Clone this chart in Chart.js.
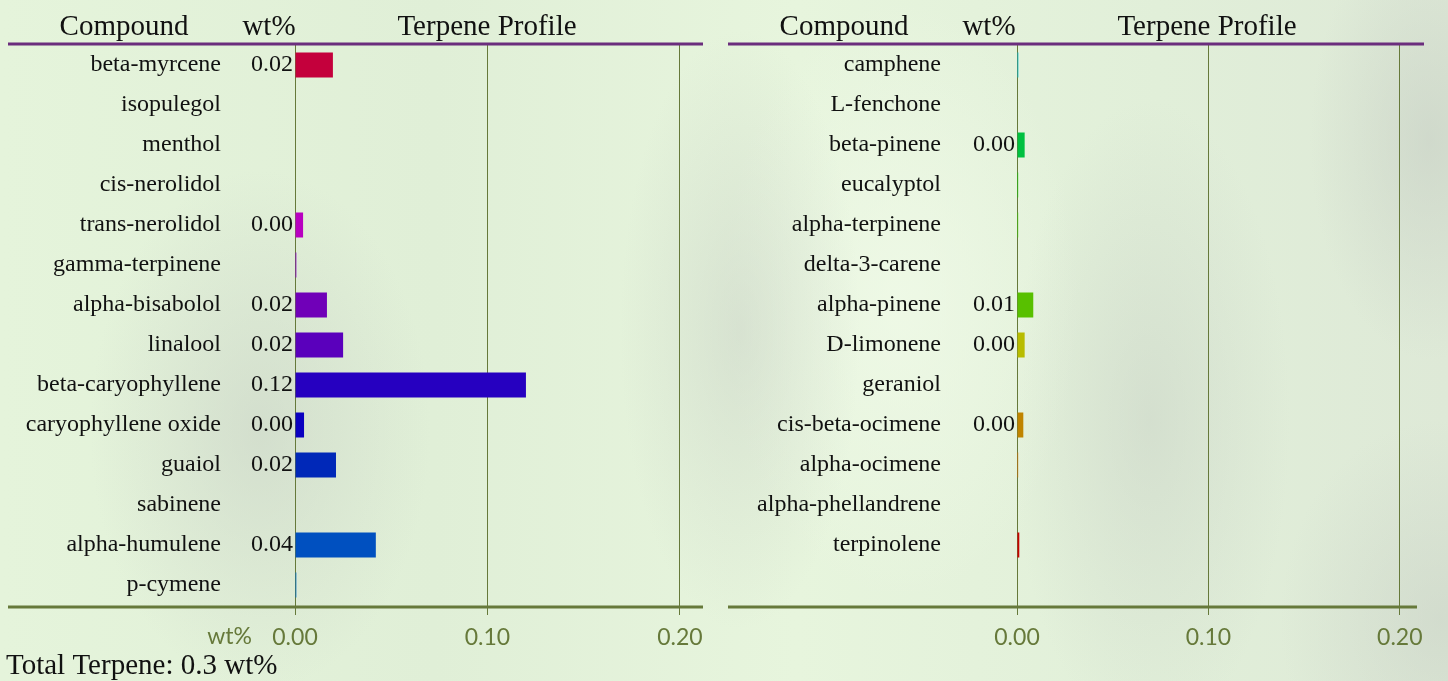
<!DOCTYPE html>
<html>
<head>
<meta charset="utf-8">
<script src="https://cdn.jsdelivr.net/npm/chart.js@4"></script>
<style>
  body {
    margin: 0;
    width: 1448px;
    height: 681px;
    overflow: hidden;
    position: relative;
    background:
      radial-gradient(ellipse 170px 260px at 260px 430px, rgba(196,204,194,0.5), rgba(196,204,194,0)),
      radial-gradient(ellipse 120px 300px at 740px 330px, rgba(196,204,194,0.45), rgba(196,204,194,0)),
      radial-gradient(ellipse 140px 320px at 1150px 420px, rgba(196,204,194,0.45), rgba(196,204,194,0)),
      radial-gradient(ellipse 120px 220px at 1430px 140px, rgba(196,204,194,0.55), rgba(196,204,194,0)),
      radial-gradient(ellipse 160px 200px at 1440px 620px, rgba(196,204,194,0.45), rgba(196,204,194,0)),
      radial-gradient(ellipse 180px 300px at 900px 300px, rgba(240,250,232,0.8), rgba(240,250,232,0)),
      linear-gradient(90deg, #e5f4db 0%, #e0efd7 30%, #e7f5dd 55%, #e1efd9 80%, #dee9d7 100%);
  }
  canvas { position: absolute; top: 0; }
  #left { left: 0; }
  #right { left: 720px; }
</style>
</head>
<body>
<canvas id="left" width="720" height="681"></canvas>
<canvas id="right" width="728" height="681"></canvas>
<script>
// Linke Tabelle
const leftCompounds = ['beta-myrcene', 'isopulegol', 'menthol', 'cis-nerolidol', 'trans-nerolidol',
  'gamma-terpinene', 'alpha-bisabolol', 'linalool', 'beta-caryophyllene', 'caryophyllene oxide',
  'guaiol', 'sabinene', 'alpha-humulene', 'p-cymene'];
const leftValues = [0.0197, 0, 0, 0, 0.0042, 0.0007, 0.0166, 0.025, 0.12, 0.0047, 0.0213, 0, 0.042, 0.0007];
const leftText = ['0.02', '', '', '', '0.00', '', '0.02', '0.02', '0.12', '0.00', '0.02', '', '0.04', ''];
const leftColors = ['#c4003c', '#c0005a', '#c00080', '#bc00a0', '#b800c0', '#8a00c8', '#7000b8',
  '#5a00bc', '#2600c0', '#0a00c0', '#0028b8', '#003cbc', '#0050c0', '#0070c8'];

// Rechte Tabelle (letzte Zeile leer)
const rightCompounds = ['camphene', 'L-fenchone', 'beta-pinene', 'eucalyptol', 'alpha-terpinene',
  'delta-3-carene', 'alpha-pinene', 'D-limonene', 'geraniol', 'cis-beta-ocimene', 'alpha-ocimene',
  'alpha-phellandrene', 'terpinolene', ''];
const rightValues = [0.0007, 0, 0.004, 0.0006, 0.0006, 0, 0.0085, 0.004, 0, 0.0033, 0.0006, 0, 0.0012, null];
const rightText = ['', '', '0.00', '', '', '', '0.01', '0.00', '', '0.00', '', '', '', ''];
const rightColors = ['#00b8d0', '#00c0a0', '#00c040', '#10c800', '#38c800', '#48c400', '#58c000',
  '#b8bc00', '#c0a000', '#c08400', '#d07000', '#c84000', '#c80000', '#c80000'];

const xTicks = [0, 0.1, 0.2];
const totalText = 'Total Terpene: 0.3 wt%';

const green = '#66793a';
const purple = '#6b2d7d';
const serif = '"Liberation Serif", "Times New Roman", serif';

function makeChart(id, labels, values, texts, colors, opts) {
    const decor = {
        id: 'decor',
        afterDatasetsDraw(chart) {
            const ctx = chart.ctx;
            const area = chart.chartArea;
            const meta = chart.getDatasetMeta(0);
            ctx.save();
            ctx.font = '24px ' + serif;
            ctx.fillStyle = '#111';
            ctx.textAlign = 'right';
            ctx.textBaseline = 'middle';
            meta.data.forEach((bar, i) => {
                if (texts[i]) ctx.fillText(texts[i], area.left - 2, bar.y);
            });
            ctx.restore();
        },
        afterDraw(chart) {
            const ctx = chart.ctx;
            const area = chart.chartArea;
            ctx.save();
            // Kopfzeile
            ctx.font = '29px ' + serif;
            ctx.fillStyle = '#111';
            ctx.textAlign = 'center';
            ctx.textBaseline = 'alphabetic';
            ctx.fillText('Compound', 124, 35);
            ctx.fillText('wt%', 269, 35);
            ctx.fillText('Terpene Profile', 487, 35);
            // Linien
            ctx.lineWidth = 3;
            ctx.strokeStyle = purple;
            ctx.beginPath();
            ctx.moveTo(8, 44);
            ctx.lineTo(opts.topEnd, 44);
            ctx.stroke();
            ctx.strokeStyle = green;
            ctx.beginPath();
            ctx.moveTo(8, 607);
            ctx.lineTo(area.right, 607);
            ctx.stroke();
            if (opts.left) {
                ctx.font = '23px Lato, sans-serif';
                ctx.fillStyle = green;
                ctx.textAlign = 'right';
                ctx.textBaseline = 'middle';
                ctx.fillText('wt%', 252, 637);
                ctx.font = '29px ' + serif;
                ctx.fillStyle = '#111';
                ctx.textAlign = 'left';
                ctx.textBaseline = 'alphabetic';
                ctx.fillText(totalText, 6, 674);
            }
            ctx.restore();
        }
    };

    return new Chart(document.getElementById(id), {
        type: 'bar',
        data: {
            labels: labels,
            datasets: [{
                data: values,
                backgroundColor: colors,
                borderWidth: 0,
                categoryPercentage: 1,
                barPercentage: 0.625
            }]
        },
        options: {
            indexAxis: 'y',
            responsive: false,
            animation: false,
            layout: { padding: { top: 45, right: opts.padRight, left: 0, bottom: 0 } },
            plugins: { legend: { display: false }, tooltip: { enabled: false } },
            scales: {
                x: {
                    type: 'linear',
                    min: 0,
                    max: opts.max,
                    afterBuildTicks: s => { s.ticks = xTicks.map(v => ({ value: v })); },
                    afterFit: s => { s.height = 76; s.paddingLeft = 0; s.paddingRight = 0; },
                    border: { display: false },
                    grid: { color: green, lineWidth: 1, tickLength: 10 },
                    ticks: {
                        color: green,
                        font: { family: 'Lato', size: 23 },
                        padding: 9,
                        maxRotation: 0,
                        callback: v => Number(v).toFixed(2)
                    }
                },
                y: {
                    afterFit: s => { s.width = opts.axisLeft; s.paddingTop = 0; s.paddingBottom = 0; },
                    border: { display: false },
                    grid: { display: false, drawTicks: false },
                    ticks: {
                        color: '#111',
                        font: { family: 'Liberation Serif', size: 24 },
                        padding: opts.axisLeft - 221,
                        autoSkip: false
                    }
                }
            }
        },
        plugins: [decor]
    });
}

makeChart('left', leftCompounds, leftValues, leftText, leftColors,
    { left: true, axisLeft: 295, padRight: 17, max: 0.212, topEnd: 703 });
makeChart('right', rightCompounds, rightValues, rightText, rightColors,
    { left: false, axisLeft: 297, padRight: 31, max: 0.209, topEnd: 704 });
</script>
</body>
</html>
